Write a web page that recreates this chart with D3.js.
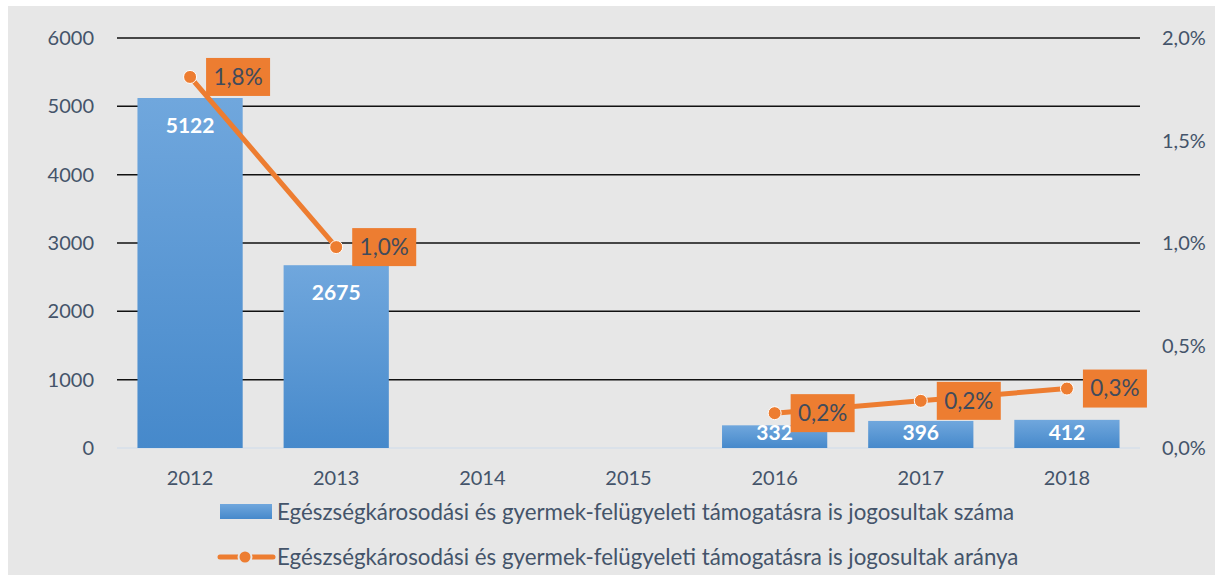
<!DOCTYPE html>
<head>
    <meta charset="utf-8">
    <title>Jogosultak száma és aránya</title>
    <style>
        body { margin: 0; background: #fff; }
        text { font-family: Lato, "Open Sans", sans-serif; fill: #44546a; }
    </style>
</head>
<body>
<svg width="1215" height="575"></svg>

<script src="https://d3js.org/d3.v7.min.js"></script>
<script>
    // data
    var years = ["2012", "2013", "2014", "2015", "2016", "2017", "2018"];
    var counts = [5122, 2675, null, null, 332, 396, 412];
    var ratios = [0.0181, 0.0098, null, null, 0.0017, 0.0023, 0.0029];
    var leftTicks = [0, 1000, 2000, 3000, 4000, 5000, 6000];
    var rightTicks = [0, 0.005, 0.01, 0.015, 0.02];
    var legendLabels = [
        "Egészségkárosodási és gyermek-felügyeleti támogatásra is jogosultak száma",
        "Egészségkárosodási és gyermek-felügyeleti támogatásra is jogosultak aránya"
    ];

    var svg = d3.select("svg");
    var hu = d3.formatLocale({decimal: ",", thousands: " ", grouping: [3], currency: ["", ""]});
    var pct = hu.format(".1%");

    var orange = "#ed7d31";

    var x = d3.scaleBand().domain(years).range([117, 1140])
        .paddingInner(0.28).paddingOuter(0.14);
    var yL = d3.scaleLinear().domain([0, 6000]).range([448, 38]);
    var yR = d3.scaleLinear().domain([0, 0.02]).range([448, 38]);

    // background
    svg.append("rect").attr("x", 8).attr("y", 6).attr("width", 1207).attr("height", 569)
        .attr("fill", "#e7e7e7");

    var grad = svg.append("defs").append("linearGradient")
        .attr("id", "barGrad").attr("x1", 0).attr("y1", 0).attr("x2", 0).attr("y2", 1);
    grad.append("stop").attr("offset", "0%").attr("stop-color", "#70a7dd");
    grad.append("stop").attr("offset", "100%").attr("stop-color", "#4689cb");

    // grid lines
    svg.append("g").selectAll("line")
        .data(leftTicks)
        .enter().append("line")
        .attr("x1", 117).attr("x2", 1140)
        .attr("y1", function (d) { return yL(d); })
        .attr("y2", function (d) { return yL(d); })
        .attr("stroke", function (d) { return d === 0 ? "#d6dfea" : "#111"; })
        .attr("stroke-width", 1.5);

    // left axis labels
    svg.append("g").selectAll("text")
        .data(leftTicks)
        .enter().append("text")
        .attr("x", 94).attr("y", function (d) { return yL(d); })
        .attr("dy", "0.35em")
        .attr("text-anchor", "end")
        .attr("font-size", 20)
        .text(function (d) { return d; });

    // right axis labels
    svg.append("g").selectAll("text")
        .data(rightTicks)
        .enter().append("text")
        .attr("x", 1162).attr("y", function (d) { return yR(d); })
        .attr("dy", "0.35em")
        .attr("text-anchor", "start")
        .attr("font-size", 20)
        .text(function (d) { return pct(d); });

    // category labels
    svg.append("g").selectAll("text")
        .data(years)
        .enter().append("text")
        .attr("x", function (d) { return x(d) + x.bandwidth() / 2; })
        .attr("y", 478)
        .attr("dy", "0.35em")
        .attr("text-anchor", "middle")
        .attr("font-size", 20)
        .text(function (d) { return d; });

    var rows = years.map(function (y, i) { return {year: y, count: counts[i], ratio: ratios[i]}; });
    var barRows = rows.filter(function (d) { return d.count != null; });
    var lineRows = rows.filter(function (d) { return d.ratio != null; });

    // bars
    svg.append("g").selectAll("rect")
        .data(barRows)
        .enter().append("rect")
        .attr("x", function (d) { return x(d.year); })
        .attr("y", function (d) { return yL(d.count); })
        .attr("width", x.bandwidth())
        .attr("height", function (d) { return yL(0) - yL(d.count); })
        .attr("fill", "url(#barGrad)");

    svg.append("g").selectAll("text")
        .data(barRows)
        .enter().append("text")
        .attr("x", function (d) { return x(d.year) + x.bandwidth() / 2; })
        .attr("y", function (d) { return Math.min(yL(d.count) + 35, yL(0) - 8); })
        .attr("text-anchor", "middle")
        .attr("font-size", 21)
        .attr("font-weight", "bold")
        .style("fill", "#fff")
        .text(function (d) { return d.count; });

    // line
    var cx = function (d) { return x(d.year) + x.bandwidth() / 2; };
    var line = d3.line()
        .defined(function (d) { return d.ratio != null; })
        .x(cx)
        .y(function (d) { return yR(d.ratio); });

    svg.append("path")
        .datum(rows)
        .attr("d", line)
        .attr("fill", "none")
        .attr("stroke", orange)
        .attr("stroke-width", 5);

    svg.append("g").selectAll("circle")
        .data(lineRows)
        .enter().append("circle")
        .attr("cx", cx)
        .attr("cy", function (d) { return yR(d.ratio); })
        .attr("r", 6.5)
        .attr("fill", orange)
        .attr("stroke", "#fff")
        .attr("stroke-width", 1);

    var boxes = svg.append("g").selectAll("g")
        .data(lineRows)
        .enter().append("g")
        .attr("transform", function (d) { return "translate(" + (cx(d) + 16) + "," + (yR(d.ratio) - 19) + ")"; });
    boxes.append("rect")
        .attr("width", 64).attr("height", 38)
        .attr("fill", orange);
    boxes.append("text")
        .attr("x", 32).attr("y", 19).attr("dy", "0.35em")
        .attr("text-anchor", "middle")
        .attr("font-size", 22.5)
        .style("fill", "#404b5c")
        .text(function (d) { return pct(d.ratio); });

    // legend
    var leg = svg.append("g");
    leg.append("rect").attr("x", 220).attr("y", 504).attr("width", 52).attr("height", 15)
        .attr("fill", "url(#barGrad)");
    leg.append("line").attr("x1", 220).attr("x2", 273).attr("y1", 557).attr("y2", 557)
        .attr("stroke", orange).attr("stroke-width", 5).attr("stroke-linecap", "round");
    leg.append("circle").attr("cx", 245).attr("cy", 557).attr("r", 6.5)
        .attr("fill", orange).attr("stroke", "#e7e7e7").attr("stroke-width", 2);
    leg.selectAll("text")
        .data(legendLabels)
        .enter().append("text")
        .attr("x", 277)
        .attr("y", function (d, i) { return 512 + i * 45; })
        .attr("dy", "0.35em")
        .attr("font-size", 22.3)
        .text(function (d) { return d; });
</script>
</body>
